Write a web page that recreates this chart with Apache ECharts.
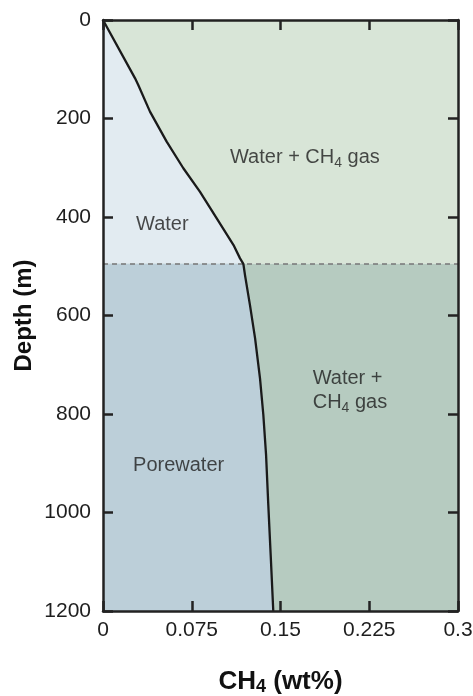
<!DOCTYPE html>
<html>
<head>
<meta charset="utf-8">
<script src="https://cdn.jsdelivr.net/npm/echarts@6/dist/echarts.min.js"></script>
<style>
  html, body { margin: 0; padding: 0; background: #fff; }
  #chart { width: 473px; height: 696px; }
</style>
</head>
<body>
<div id="chart"></div>
<script>
// data
var xTicks = [0, 0.075, 0.15, 0.225, 0.3];
var depthTicks = [0, 200, 400, 600, 800, 1000, 1200];
var boundaryDepth = 495;   // dashed line
// CH4 solubility curve, upper part (water), [wt%, depth m]
var curveUpper = [[0, 0], [0.027, 118], [0.0298, 132], [0.0397, 186], [0.0538, 247], [0.0679, 301],
    [0.082, 349], [0.0961, 403], [0.1103, 457], [0.1158, 484], [0.1186, 495]];
// lower part (porewater)
var curveLower = [[0.1186, 495], [0.120, 518], [0.1242, 579], [0.1285, 646], [0.1327, 728],
    [0.1355, 802], [0.1378, 883], [0.1397, 985], [0.1417, 1086], [0.1439, 1200]];
// region labels
var regionLabels = [
    {pos: [0.1073, 280], text: '{t|Water + CH}{s|4}{t| gas}'},
    {pos: [0.0279, 416], text: '{t|Water}'},
    {pos: [0.0254, 905], text: '{t|Porewater}'},
    {pos: [0.1772, 753], text: '{t|Water +}\n{t|CH}{s|4}{t| gas}'}
];

var xMax = xTicks[xTicks.length - 1];
var yMax = depthTicks[depthTicks.length - 1];

// polygons: gas above, gas below, water, porewater
var regions = [
    [[0, 0], [xMax, 0], [xMax, boundaryDepth], [0, boundaryDepth]],
    [[0, boundaryDepth], [xMax, boundaryDepth], [xMax, yMax], [0, yMax]],
    curveUpper.concat([[0, boundaryDepth]]),
    [[0, boundaryDepth]].concat(curveLower).concat([[0, yMax]])
];
var regionColors = ['#d8e5d7', '#b6cbc0', '#e2ebf1', '#bccfd9'];

var font = '"Liberation Sans", Arial, Helvetica, sans-serif';
var axisCol = '#222';
var textCol = '#1e1e1e';

var myChart = echarts.init(document.getElementById('chart'));

function baseX(pos, show) {
    return {
        type: 'value', position: pos, min: 0, max: xMax, interval: 0.075, z: 10,
        nameMoveOverlap: false,
        axisLine: {show: true, onZero: false, lineStyle: {color: axisCol, width: 2.5}},
        axisTick: {show: true, inside: true, length: 10, lineStyle: {color: axisCol, width: 2.5}},
        axisLabel: {show: show, fontSize: 21, color: textCol, fontFamily: font, margin: 9,
            showMinLabel: true, showMaxLabel: true},
        splitLine: {show: false}
    };
}
function baseY(pos, show) {
    return {
        type: 'value', position: pos, min: 0, max: yMax, interval: 200, inverse: true, z: 10,
        nameMoveOverlap: false,
        axisLine: {show: true, onZero: false, lineStyle: {color: axisCol, width: 2.5}},
        axisTick: {show: true, inside: true, length: 10, lineStyle: {color: axisCol, width: 2.5}},
        axisLabel: {show: show, fontSize: 21, color: textCol, fontFamily: font, margin: 12,
            showMinLabel: true, showMaxLabel: true,
            formatter: function (v) { return String(v); }},
        splitLine: {show: false}
    };
}

var xBottom = baseX('bottom', true);
xBottom.name = '{b|CH}{bs|4}{b| (wt%)}';
xBottom.nameLocation = 'middle';
xBottom.nameGap = 57;
xBottom.nameTextStyle = {
    rich: {
        b: {fontSize: 26, fontWeight: 'bold', color: '#111', fontFamily: font, lineHeight: 28},
        bs: {fontSize: 18, fontWeight: 'bold', color: '#111', fontFamily: font, lineHeight: 18, verticalAlign: 'bottom'}
    }
};
var yLeft = baseY('left', true);
yLeft.name = 'Depth (m)';
yLeft.nameLocation = 'middle';
yLeft.nameGap = 67;
yLeft.nameTextStyle = {fontSize: 24, fontWeight: 'bold', color: '#111', fontFamily: font};

var option = {
    animation: false,
    grid: {left: 103, right: 15, top: 20, bottom: 85, containLabel: false, outerBoundsMode: 'none'},
    xAxis: [xBottom, baseX('top', false)],
    yAxis: [yLeft, baseY('right', false)],
    series: [
        {
            type: 'custom',
            z: 1,
            data: regions.map(function (r, i) { return [i]; }),
            renderItem: function (params, api) {
                var pts = regions[params.dataIndex].map(function (p) { return api.coord(p); });
                return {type: 'polygon', shape: {points: pts},
                    style: {fill: regionColors[params.dataIndex], stroke: null}};
            },
            silent: true
        },
        {
            type: 'line',
            z: 5,
            data: curveUpper.concat(curveLower.slice(1)),
            showSymbol: false,
            symbol: 'none',
            lineStyle: {color: '#1a1a1a', width: 2.3, join: 'round'},
            markLine: {
                silent: true,
                symbol: 'none',
                label: {show: false},
                lineStyle: {color: '#777', width: 1.5, type: [5, 4]},
                data: [{yAxis: boundaryDepth}]
            }
        },
        {
            type: 'scatter',
            z: 6,
            symbolSize: 0,
            data: regionLabels.map(function (l) { return {value: l.pos, name: l.text}; }),
            label: {
                show: true,
                position: 'right',
                distance: 0,
                formatter: function (p) { return p.name; },
                rich: {
                    t: {fontSize: 20, color: textCol, fontFamily: font, lineHeight: 24},
                    s: {fontSize: 14, color: textCol, fontFamily: font, lineHeight: 16, verticalAlign: 'bottom'}
                }
            },
            silent: true
        }
    ]
};

myChart.setOption(option);
</script>
</body>
</html>
